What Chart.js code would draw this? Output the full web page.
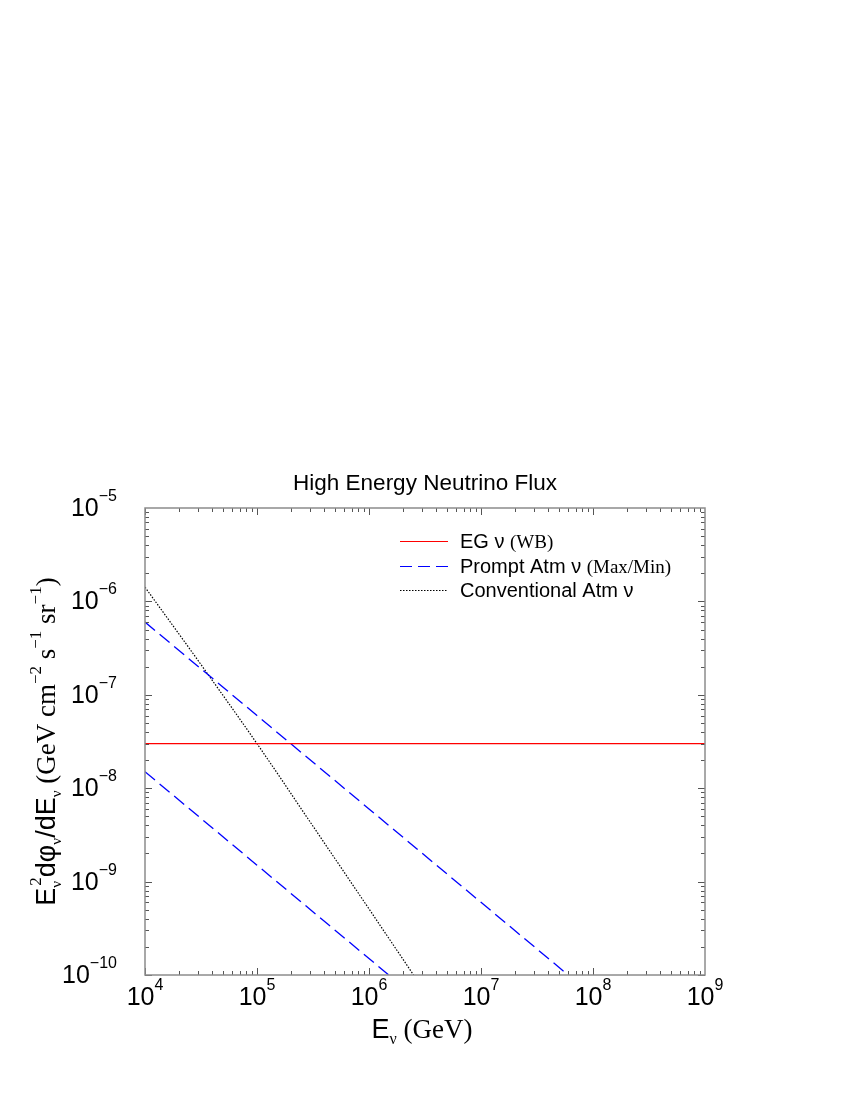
<!DOCTYPE html>
<html>
<head>
<meta charset="utf-8">
<script src="https://cdn.jsdelivr.net/npm/chart.js@4"></script>
<style>
  html, body { margin: 0; padding: 0; background: #fff; }
  #c { display: block; }
</style>
</head>
<body>
<canvas id="c" width="850" height="1100"></canvas>
<script>
// ---- data ----
const xTickDecades = [4, 5, 6, 7, 8, 9];          // 10^4 .. 10^9 GeV
const yTickDecades = [-10, -9, -8, -7, -6, -5];   // 10^-10 .. 10^-5

const egEnergy = [1e4, 1e9];
const egFlux   = [3e-8, 3e-8];

const promptMaxEnergy = [1e4, 1e5, 1e6, 1e7, 6e7];
const promptMaxFlux   = [6e-7, 6e-8, 6e-9, 6e-10, 1e-10];

const promptMinEnergy = [1e4, 1e5, 1e6, 1.5e6];
const promptMinFlux   = [1.5e-8, 1.5e-9, 1.5e-10, 1e-10];

const convEnergy = [1e4, 3e4, 1e5, 3e5, 1e6, 2.5e6];
const convFlux   = [1.42e-6, 2.3e-7, 3e-8, 4.3e-9, 5.1e-10, 1e-10];

const titleText = 'High Energy Neutrino Flux';

// ---- helpers ----
const SANS = '"Liberation Sans", Arial, Helvetica, sans-serif';
const SERIF = '"Liberation Serif", "Times New Roman", serif';
const zip = (xs, ys) => xs.map((x, i) => ({ x: x, y: ys[i] }));

function richWidth(ctx, segs) {
  let w = 0;
  for (const s of segs) {
    ctx.font = s.font;
    const mw = ctx.measureText(s.t).width;
    w += (s.adv !== undefined) ? s.adv(mw) : mw;
  }
  return w;
}
function drawRich(ctx, segs, x, y, align) {
  const w = richWidth(ctx, segs);
  let cx = x;
  if (align === 'center') cx = x - w / 2;
  else if (align === 'right') cx = x - w;
  ctx.textAlign = 'left';
  ctx.textBaseline = 'alphabetic';
  for (const s of segs) {
    ctx.font = s.font;
    ctx.fillStyle = s.color || '#000';
    ctx.fillText(s.t, cx, y + (s.dy || 0));
    const mw = ctx.measureText(s.t).width;
    cx += (s.adv !== undefined) ? s.adv(mw) : mw;
  }
}
function powLabel(exp) {
  const e = exp < 0 ? '\u2212' + (-exp) : String(exp);
  return [
    { t: '10', font: '25px ' + SANS },
    { t: e, font: '16px ' + SANS, dy: -15 }
  ];
}

const decor = {
  id: 'decor',
  afterDraw(chart) {
    const ctx = chart.ctx;
    const a = chart.chartArea;
    const xs = chart.scales.x, ys = chart.scales.y;
    ctx.save();

    // ticks (inward, all four sides)
    ctx.strokeStyle = '#555';
    ctx.lineWidth = 1;
    ctx.beginPath();
    for (let d = xTickDecades[0]; d < xTickDecades[xTickDecades.length - 1]; d++) {
      for (let k = 1; k <= 9; k++) {
        const px = Math.round(xs.getPixelForValue(k * Math.pow(10, d))) + 0.5;
        const len = k === 1 ? 7 : 4;
        ctx.moveTo(px, a.bottom); ctx.lineTo(px, a.bottom - len);
        ctx.moveTo(px, a.top); ctx.lineTo(px, a.top + len);
      }
    }
    for (let d = yTickDecades[0]; d < yTickDecades[yTickDecades.length - 1]; d++) {
      for (let k = 1; k <= 9; k++) {
        const py = Math.round(ys.getPixelForValue(k * Math.pow(10, d))) + 0.5;
        const len = k === 1 ? 7 : 4;
        ctx.moveTo(a.left, py); ctx.lineTo(a.left + len, py);
        ctx.moveTo(a.right, py); ctx.lineTo(a.right - len, py);
      }
    }
    ctx.stroke();

    // frame
    ctx.strokeStyle = '#8c8c8c';
    ctx.lineWidth = 1.5;
    ctx.strokeRect(a.left, a.top, a.right - a.left, a.bottom - a.top);

    // x tick labels
    for (const d of xTickDecades) {
      const px = xs.getPixelForValue(Math.pow(10, d));
      drawRich(ctx, powLabel(d), px, a.bottom + 30, 'center');
    }
    // y tick labels
    for (const d of yTickDecades) {
      const py = ys.getPixelForValue(Math.pow(10, d));
      drawRich(ctx, powLabel(d), 117, py + 8, 'right');
    }

    // chart title
    drawRich(ctx, [{ t: titleText, font: '22.5px ' + SANS }], (a.left + a.right) / 2, 490, 'center');

    // x axis title
    drawRich(ctx, [
      { t: 'E', font: '27px ' + SANS },
      { t: '\u03bd', font: '16px ' + SERIF, dy: 6 },
      { t: ' (GeV)', font: '27px ' + SERIF }
    ], (a.left + a.right) / 2 - 3, 1038, 'center');

    // y axis title (rotated)
    ctx.save();
    ctx.translate(55, (a.top + a.bottom) / 2);
    ctx.rotate(-Math.PI / 2);
    drawRich(ctx, [
      { t: 'E', font: '27px ' + SANS },
      { t: '\u03bd', font: '15px ' + SERIF, dy: 6, adv: () => 2 },
      { t: '2', font: '17px ' + SERIF, dy: -14 },
      { t: 'd\u03c6', font: '27px ' + SANS },
      { t: '\u03bd', font: '15px ' + SERIF, dy: 6 },
      { t: '/dE', font: '27px ' + SANS },
      { t: '\u03bd', font: '15px ' + SERIF, dy: 6 },
      { t: ' (GeV cm', font: '27px ' + SERIF },
      { t: '\u22122', font: '17px ' + SERIF, dy: -14 },
      { t: ' s', font: '27px ' + SERIF },
      { t: '\u22121', font: '17px ' + SERIF, dy: -14 },
      { t: ' sr', font: '27px ' + SERIF },
      { t: '\u22121', font: '17px ' + SERIF, dy: -14 },
      { t: ')', font: '27px ' + SERIF }
    ], 0, 0, 'center');
    ctx.restore();

    // legend
    const lx0 = 400, lx1 = 448, tx = 460;
    const rows = [
      { y: 541, color: '#ff0000', dash: [], segs: [
        { t: 'EG \u03bd ', font: '20px ' + SANS }, { t: '(WB)', font: '19px ' + SERIF }] },
      { y: 566, color: '#0000ff', dash: [12, 6], segs: [
        { t: 'Prompt Atm \u03bd ', font: '20px ' + SANS }, { t: '(Max/Min)', font: '19px ' + SERIF }] },
      { y: 590, color: '#000000', dash: [1.5, 1.5], segs: [
        { t: 'Conventional Atm \u03bd', font: '20px ' + SANS }] }
    ];
    for (const r of rows) {
      ctx.save();
      ctx.strokeStyle = r.color;
      ctx.lineWidth = 1.2;
      ctx.setLineDash(r.dash);
      ctx.beginPath();
      ctx.moveTo(lx0, r.y + 0.5); ctx.lineTo(lx1, r.y + 0.5);
      ctx.stroke();
      ctx.restore();
      drawRich(ctx, r.segs, tx, r.y + 7, 'left');
    }

    ctx.restore();
  }
};

new Chart(document.getElementById('c'), {
  type: 'line',
  data: {
    datasets: [
      { label: 'EG ν (WB)', data: zip(egEnergy, egFlux), borderColor: '#ff0000', borderWidth: 1.2, pointRadius: 0, tension: 0, fill: false },
      { label: 'Prompt Atm ν (Max)', data: zip(promptMaxEnergy, promptMaxFlux), borderColor: '#0000ff', borderWidth: 1.3, borderDash: [13, 6], pointRadius: 0, tension: 0, fill: false },
      { label: 'Prompt Atm ν (Min)', data: zip(promptMinEnergy, promptMinFlux), borderColor: '#0000ff', borderWidth: 1.3, borderDash: [13, 6], pointRadius: 0, tension: 0, fill: false },
      { label: 'Conventional Atm ν', data: zip(convEnergy, convFlux), borderColor: '#000000', borderWidth: 1.2, borderDash: [1.5, 1.5], pointRadius: 0, tension: 0.3, cubicInterpolationMode: 'monotone', fill: false }
    ]
  },
  options: {
    responsive: false,
    devicePixelRatio: 1,
    animation: false,
    layout: { padding: { left: 145, right: 145, top: 508, bottom: 125 } },
    plugins: { legend: { display: false }, title: { display: false }, tooltip: { enabled: false } },
    scales: {
      x: { type: 'logarithmic', min: 1e4, max: 1e9, display: false },
      y: { type: 'logarithmic', min: 1e-10, max: 1e-5, display: false }
    }
  },
  plugins: [decor]
});
</script>
</body>
</html>
